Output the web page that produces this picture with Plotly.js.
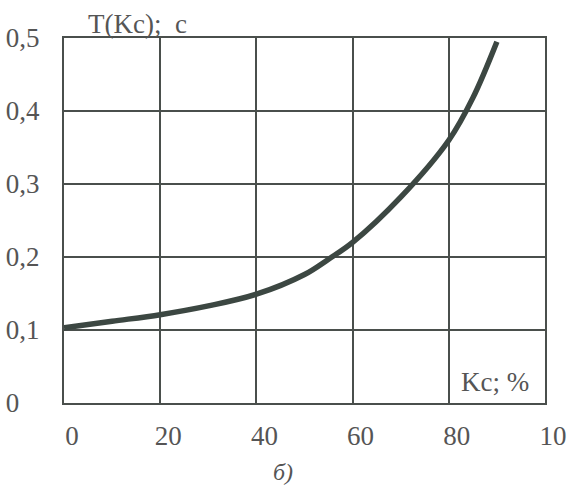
<!DOCTYPE html>
<html>
<head>
<meta charset="utf-8">
<script src="https://cdn.plot.ly/plotly-3.0.1.min.js"></script>
<style>html,body{margin:0;padding:0;background:#fff;}#chart{width:570px;height:494px;}</style>
</head>
<body>
<div id="chart"></div>
<script>
var kc = [0, 10, 20, 30, 40, 50, 55, 60, 70, 80, 85, 90];
var T  = [0.103, 0.112, 0.121, 0.133, 0.149, 0.176, 0.197, 0.220, 0.282, 0.36, 0.418, 0.495];
var xTickVals = [0, 20, 40, 60, 80, 100];
var xTickText = ["0", "20", "40", "60", "80", "10"];
var yTickVals = [0, 0.1, 0.2, 0.3, 0.4, 0.5];
var yTickText = ["0\u00a0\u00a0\u00a0", "0,1", "0,2", "0,3", "0,4", "0,5"];
var yTitle = "T(Kc);\u00a0\u00a0c";
var xTitle = "Kc; %";
var caption = "б)";

var ink = "#4a4f4c";
var txt = "#555555";
var fontFam = "'Liberation Serif', 'Times New Roman', Times, serif";

var data = [{
  x: kc, y: T, type: "scatter", mode: "lines",
  line: {color: "#3c4742", width: 5.5, shape: "spline", smoothing: 1},
  hoverinfo: "none"
}];

var layout = {
  width: 570, height: 494,
  margin: {l: 64, r: 25, t: 38, b: 91},
  paper_bgcolor: "#ffffff", plot_bgcolor: "#ffffff",
  showlegend: false,
  font: {family: fontFam, color: txt, size: 27},
  xaxis: {
    range: [0, 100], tickvals: xTickVals, ticktext: xTickText,
    showgrid: true, gridcolor: ink, gridwidth: 2,
    showline: true, linecolor: ink, linewidth: 2, mirror: true,
    zeroline: false, ticks: "", ticklabelstandoff: 8, ticklabelshift: 8,
    tickfont: {family: fontFam, color: txt, size: 27}, fixedrange: true
  },
  yaxis: {
    range: [0, 0.5], tickvals: yTickVals, ticktext: yTickText,
    showgrid: true, gridcolor: ink, gridwidth: 2,
    showline: true, linecolor: ink, linewidth: 2, mirror: true,
    zeroline: false, ticks: "", ticklabelstandoff: 17,
    tickfont: {family: fontFam, color: txt, size: 27}, fixedrange: true
  },
  annotations: [
    {text: yTitle, xref: "paper", yref: "paper", x: 0.045, y: 1.0, xanchor: "left", yanchor: "bottom",
     yshift: -3, showarrow: false, font: {family: fontFam, color: txt, size: 27}},
    {text: xTitle, xref: "paper", yref: "paper", x: 0.97, y: 0.01, xanchor: "right", yanchor: "bottom",
     showarrow: false, font: {family: fontFam, color: txt, size: 27}},
    {text: "<i>" + caption + "</i>", xref: "paper", yref: "paper", x: 0.455, y: -0.19, xanchor: "center", yanchor: "middle",
     showarrow: false, font: {family: fontFam, color: txt, size: 24}}
  ]
};

Plotly.newPlot("chart", data, layout, {staticPlot: true, displayModeBar: false});
</script>
</body>
</html>
